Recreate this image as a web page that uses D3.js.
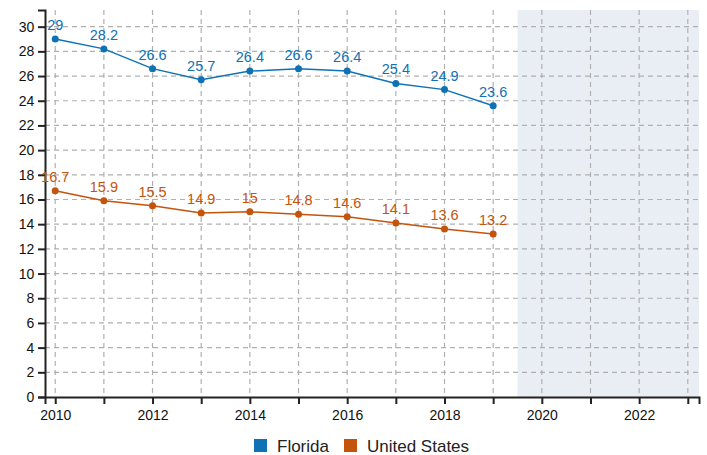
<!DOCTYPE html>
<html>
<head>
<meta charset="utf-8">
<script src="https://cdn.jsdelivr.net/npm/d3@7"></script>
<style>
  body { margin: 0; background: #fff; }
  svg { font-family: "Liberation Sans", Arial, sans-serif; }
</style>
</head>
<body>
<svg width="707" height="455"></svg>
<script>
const years = [2010, 2011, 2012, 2013, 2014, 2015, 2016, 2017, 2018, 2019];
const florida = [29, 28.2, 26.6, 25.7, 26.4, 26.6, 26.4, 25.4, 24.9, 23.6];
const unitedStates = [16.7, 15.9, 15.5, 14.9, 15, 14.8, 14.6, 14.1, 13.6, 13.2];
const seriesNames = ["Florida", "United States"];
const colors = ["#0f72b5", "#c4540c"];
const shadeFrom = 2019.5;

const svg = d3.select("svg");
const margin = { top: 10, right: 8, bottom: 58, left: 45 };
const width = 707, height = 455;

const x = d3.scaleLinear().domain([2009.79, 2023.23]).range([margin.left, width - margin.right]);
const y = d3.scaleLinear().domain([0, 31.35]).range([height - margin.bottom, margin.top]);

const series = [florida, unitedStates].map((vals, i) => ({
  name: seriesNames[i],
  color: colors[i],
  points: vals.map((v, j) => ({ year: years[j], value: v }))
}));

// shaded forecast area
svg.append("rect")
  .attr("x", x(shadeFrom))
  .attr("y", y.range()[1])
  .attr("width", x.range()[1] - x(shadeFrom))
  .attr("height", y.range()[0] - y.range()[1])
  .attr("fill", "#e9eef5");

const yTicks = d3.range(0, 31, 2);
const xTicks = d3.range(2010, 2024, 1);

// grid
const grid = svg.append("g")
  .attr("stroke", "#b0b0b0")
  .attr("stroke-width", 1.2)
  .attr("stroke-dasharray", "5,4");

grid.selectAll(".h").data(yTicks.filter(d => d > 0)).join("line")
  .attr("x1", x.range()[0]).attr("x2", x.range()[1])
  .attr("y1", d => y(d)).attr("y2", d => y(d));

grid.selectAll(".v").data(xTicks).join("line")
  .attr("x1", d => x(d)).attr("x2", d => x(d))
  .attr("y1", y.range()[1]).attr("y2", y.range()[0]);

// axes
const xAxis = svg.append("g")
  .attr("transform", `translate(0,${y(0)})`)
  .call(d3.axisBottom(x).tickValues(xTicks).tickSize(7).tickSizeOuter(7)
    .tickFormat(d => d % 2 === 0 ? d : ""));

const yAxis = svg.append("g")
  .attr("transform", `translate(${margin.left},0)`)
  .call(d3.axisLeft(y).tickValues(yTicks).tickSize(7).tickSizeOuter(7));

[xAxis, yAxis].forEach(a => {
  a.select(".domain").attr("stroke", "#222").attr("stroke-width", 2);
  a.selectAll(".tick line").attr("stroke", "#222").attr("stroke-width", 2);
  a.selectAll("text").attr("font-size", 14).attr("fill", "#111")
    .attr("font-family", "Liberation Sans, Arial, sans-serif");
});
xAxis.selectAll("text").attr("dy", "0.95em");
yAxis.selectAll("text").attr("dx", "-0.05em");

// lines
const line = d3.line().x(d => x(d.year)).y(d => y(d.value));

const g = svg.append("g");
series.forEach(s => {
  g.append("path")
    .datum(s.points)
    .attr("fill", "none")
    .attr("stroke", s.color)
    .attr("stroke-width", 1.5)
    .attr("d", line);

  g.selectAll(null).data(s.points).join("circle")
    .attr("cx", d => x(d.year))
    .attr("cy", d => y(d.value))
    .attr("r", 3.5)
    .attr("fill", s.color);

  g.selectAll(null).data(s.points).join("text")
    .attr("x", d => x(d.year))
    .attr("y", d => y(d.value) - 9)
    .attr("text-anchor", "middle")
    .attr("font-size", 14.5)
    .attr("fill", s.color)
    .text(d => d.value);
});

// legend
const legendItems = [
  { name: seriesNames[0], color: colors[0], x: 254 },
  { name: seriesNames[1], color: colors[1], x: 344 }
];
const legend = svg.append("g");
legendItems.forEach(it => {
  legend.append("rect")
    .attr("x", it.x).attr("y", 439)
    .attr("width", 13).attr("height", 13)
    .attr("fill", it.color);
  legend.append("text")
    .attr("x", it.x + 23).attr("y", 452)
    .attr("font-size", 17)
    .attr("fill", "#222")
    .text(it.name);
});
</script>
</body>
</html>
